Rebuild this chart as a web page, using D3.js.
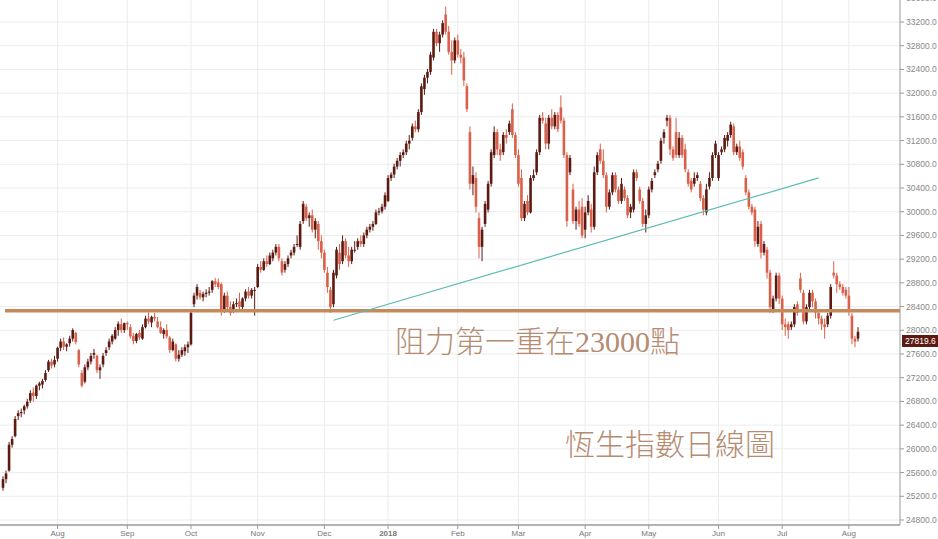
<!DOCTYPE html>
<html><head><meta charset="utf-8">
<script src="https://cdn.jsdelivr.net/npm/d3@7"></script>
<style>body{margin:0;background:#fff}svg{display:block}</style>
</head><body>
<svg id="c" width="938" height="539"></svg>
<script>
// Hang Seng Index daily readings [open, high, low, close], 2017-07-06 .. 2018-08-06 (weekdays)
// (readings were taken against a provisional axis; readCal maps them to index points)
const ohlc = [
[25100,25300,25050,25250],[25250,25400,25180,25350],[25400,25900,25380,25850],[25850,26000,25800,25950],[26000,26350,25980,26300],[26350,26450,26280,26400],[26400,26480,26330,26420],[26450,26550,26380,26520],[26520,26650,26480,26600],[26620,26800,26580,26750],[26760,26850,26600,26700],[26700,26900,26650,26880],[26880,26950,26800,26920],[26900,27000,26830,26960],[26980,27150,26950,27100],[27150,27330,27120,27300],[27300,27350,27180,27230],[27250,27400,27200,27330],
[27350,27560,27300,27540],[27540,27700,27480,27650],[27650,27720,27500,27560],[27560,27620,27480,27600],[27620,27750,27560,27700],[27700,27880,27650,27850],[27800,27820,27600,27640],[27500,27520,27200,27250],[27100,27150,26850,26880],[26950,27250,26920,27200],[27200,27350,27150,27300],[27300,27450,27250,27400],[27420,27520,27350,27450],[27400,27420,27100,27150],[27150,27250,27000,27200],[27250,27450,27200,27400],[27450,27550,27400,27500],[27550,27700,27500,27650],[27650,27780,27600,27750],[27700,27900,27680,27850],[27850,28000,27750,27960],[27950,28050,27800,27850],[27850,27980,27800,27970],
[27970,28000,27850,27950],[27900,27950,27700,27740],[27750,27800,27600,27660],[27660,27800,27620,27780],[27800,27850,27680,27720],[27700,27950,27680,27900],[27900,28100,27880,28050],[28050,28160,27950,28000],[27980,28100,27900,28080],[28080,28150,28000,28050],[28000,28080,27880,27900],[27900,28000,27780,27800],[27780,27880,27700,27850],[27850,27950,27700,27740],[27720,27750,27450,27500],[27500,27700,27480,27650],[27600,27620,27300,27350],[27350,27500,27300,27420],[27420,27550,27380,27500],[27480,27600,27400,27550],[27550,27650,27450,27600],
[27600,28200,27580,28150],[28300,28500,28250,28450],[28450,28650,28380,28600],[28500,28550,28380,28420],[28420,28520,28350,28480],[28480,28560,28420,28500],[28500,28600,28450,28520],[28550,28720,28500,28700],[28700,28760,28600,28650],[28680,28750,28560,28600],[28650,28680,28100,28200],[28200,28500,28150,28450],[28450,28520,28200,28250],[28250,28350,28100,28150],[28200,28350,28150,28300],[28300,28400,28250,28320],[28350,28500,28200,28250],[28250,28420,28200,28400],[28400,28560,28350,28520],[28520,28600,28400,28450],[28450,28580,28400,28550],[28550,28600,28100,28550],
[28600,29000,28580,28950],[28950,29050,28850,28900],[28900,29100,28880,29050],[29050,29150,28950,29000],[29000,29200,28980,29150],[29100,29250,29050,29200],[29200,29350,29150,29300],[29300,29350,29050,29100],[29050,29100,28800,28850],[28900,29050,28850,29000],[29000,29150,28950,29100],[29150,29250,29100,29200],[29200,29350,29150,29300],[29350,29500,29300,29350],[29300,29750,29250,29700],[29750,30100,29700,30050],[30000,30050,29750,29800],[29800,29900,29650,29850],[29850,29950,29550,29600],[29600,29800,29450,29750],[29700,29750,29250,29400],[29400,29500,29100,29200],
[29200,29250,28850,28900],[28850,28950,28500,28600],[28550,28600,28150,28250],[28300,28900,28250,28850],[28800,29300,28750,29250],[29200,29350,28900,29000],[29050,29500,29000,29400],[29400,29450,29100,29150],[29150,29300,28950,29050],[29050,29300,29000,29250],[29250,29400,29200,29250],[29300,29450,29250,29400],[29400,29500,29300,29350],[29350,29550,29300,29500],[29500,29650,29450,29600],[29600,29700,29550,29650],[29650,29750,29580,29700],[29700,29950,29680,29900],[29900,29980,29850,29920],[29920,30050,29880,30000],[30000,30250,29950,30200],
[30100,30550,30080,30500],[30500,30600,30450,30560],[30560,30750,30500,30700],[30700,30850,30650,30800],[30800,30950,30700,30900],[30900,31000,30850,30950],[30950,31150,30900,31100],[31100,31250,31000,31150],[31200,31450,31150,31400],[31400,31500,31300,31350],[31350,31700,31300,31650],[31650,32150,31600,32100],[32050,32300,31950,32250],[32250,32400,32150,32350],[32350,32700,32300,32650],[32600,33100,32550,33050],[33050,33100,32800,32850],[32850,33050,32700,33000],[33000,33250,32950,33200],[33350,33490,33000,33050],[33050,33150,32650,32700],[32700,32900,32300,32550],[32550,32950,32500,32900],
[32900,33000,32600,32650],[32650,32750,32500,32600],[32600,32700,32100,32200],[32100,32150,31650,31700],[31300,31400,30300,30400],[30400,30700,30200,30550],[30500,30600,29900,30000],[29800,29900,29100,29300],[29300,29650,29050,29600],[29700,30100,29650,30050],[29950,30450,29900,30400],[30400,31000,30350,30950],[30900,31400,30850,31300],[31300,31350,30900,31000],[31000,31100,30800,30900],[30950,31300,30900,31250],[31250,31350,31100,31200],[31300,31500,31250,31450],[31700,31800,31200,31250],[31250,31300,30850,30900],
[30900,31000,30350,30400],[30500,30650,29750,29800],[29800,30100,29750,30050],[30100,30200,29850,29900],[29900,30550,29880,30500],[30500,30650,30450,30550],[30600,31000,30550,30950],[30950,31600,30900,31550],[31550,31650,31450,31500],[31450,31550,31000,31100],[31100,31600,31000,31550],[31550,31700,31350,31400],[31400,31650,31350,31600],[31600,31650,31300,31350],[31730,31940,31450,31500],[31500,31550,30850,30900],[30900,30950,29650,29750],[30600,30900,30550,30850],[30300,30400,29700,29750],[29750,30000,29600,29950],[29950,30100,29650,29700],[30000,30150,29450,29500],
[29600,30000,29450,29900],[29900,30200,29850,30100],[29950,30050,29550,29650],[29650,30700,29600,30600],[30600,30950,30550,30900],[31000,31100,30750,30800],[30800,31000,30500,30550],[30550,30600,29900,30000],[30000,30300,29950,30250],[30250,30600,30200,30550],[30550,30600,30250,30300],[30300,30350,30050,30100],[30100,30500,30050,30400],[30300,30350,30100,30150],[30150,30200,29800,29850],[29900,30050,29800,30000],[29950,30650,29900,30600],[30600,30650,30450,30500],[30300,30350,30050,30100],[30100,30150,29650,29700],[29700,29950,29550,29850],
[29850,30350,29800,30300],[30300,30500,30250,30450],[30550,30650,30500,30600],[30650,30800,30600,30750],[30800,31200,30750,31150],[31200,31350,31100,31300],[31500,31600,31400,31550],[31550,31600,30900,31000],[31000,31050,30800,30850],[31300,31550,30850,30900],[30900,31300,30850,31200],[31200,31250,30850,30900],[31000,31100,30600,30650],[30600,30650,30350,30400],[30450,30500,30250,30300],[30400,30600,30350,30500],[30500,30600,30450,30550],[30400,30450,30100,30150],[30150,30200,29850,29950],[29900,30400,29850,30300],[30350,30600,30300,30500],[30500,30950,30450,30900],[30900,31150,30850,31100],
[30500,30950,30450,30900],[30950,31050,30900,31000],[31000,31250,30950,31200],[31150,31300,31050,31250],[31250,31480,31200,31430],[31400,31450,30900,30950],[30950,31100,30900,31050],[31050,31150,30800,30850],[30950,31000,30650,30700],[30500,30550,30200,30250],[30250,30300,29950,30000],[30000,30050,29850,29900],[29950,30000,29300,29400],[29350,29750,29300,29650],[29700,29750,29100,29200],[29200,29400,29150,29350],[29250,29300,28750,28850],[28850,28900,28150,28250],[28200,28450,28150,28400],[28400,28850,28350,28800],[28800,28850,28300,28400],
[28400,28450,27850,27950],[27950,28050,27750,27900],[27950,28000,27700,27850],[27900,28000,27850,27950],[27950,28300,27900,28250],[28300,28350,28100,28150],[28750,28850,28500,28550],[28500,28550,27950,28000],[28000,28300,27950,28250],[28250,28550,28200,28500],[28500,28550,28250,28350],[28350,28400,28050,28150],[28150,28200,27950,28050],[28050,28100,27850,27950],[27950,28050,27700,27900],[27950,28150,27900,28100],[28100,28650,28050,28600],[28850,29050,28750,28800],[28800,28850,28500,28650],[28650,28700,28550,28600],[28600,28650,28450,28500],[28550,28600,28400,28450],
[28450,28600,28100,28200],[28100,28150,27600,27700],[27700,27750,27550,27650],[27700,27900,27650,27820]
];
const startDate = "2017-07-06";
const monthLabels = ["Aug","Sep","Oct","Nov","Dec","2018","Feb","Mar","Apr","May","Jun","Jul","Aug"];
const yTicks = [24800,25200,25600,26000,26400,26800,27200,27600,28000,28400,28800,29200,29600,30000,30400,30800,31200,31600,32000,32400,32800,33200,33600];
const resistance = 28330;
const trendFrom = [109, 28170];
const trendTo = [269, 30570];
const lastPrice = "27819.6";
const note1 = "阻力第一重在23000點";
const note2 = "恆生指數日線圖";

// calibration of the readings onto index points
const readCal = v => 25053 + 0.9676 * (v - 24800);

const dates = [];
let d = new Date(startDate + "T00:00:00");
while (dates.length < ohlc.length) {
  const wd = d.getDay();
  if (wd !== 0 && wd !== 6) dates.push(new Date(d));
  d.setDate(d.getDate() + 1);
}
const svg = d3.select("#c");
const x = d3.scaleLinear().domain([0, ohlc.length - 1]).range([3, 858]);
const y = d3.scaleLinear().domain([24800, 33200]).range([520, 22]);
const plotR = 900, plotB = 525;

svg.append("g").selectAll("line").data(yTicks).join("line")
  .attr("x1", 0).attr("x2", plotR).attr("y1", v => y(v)).attr("y2", v => y(v))
  .attr("stroke", "#ececec").attr("stroke-width", 1);
const monthIdx = [];
dates.forEach((dt, i) => { if (i > 0 && dt.getMonth() !== dates[i-1].getMonth()) monthIdx.push(i); });
svg.append("g").selectAll("line").data(monthIdx).join("line")
  .attr("x1", i => x(i)).attr("x2", i => x(i)).attr("y1", 0).attr("y2", plotB)
  .attr("stroke", "#ececec");

svg.append("line").attr("x1", plotR).attr("x2", plotR).attr("y1", 0).attr("y2", plotB).attr("stroke", "#9a9a9a");
svg.append("line").attr("x1", 0).attr("x2", plotR).attr("y1", plotB).attr("y2", plotB).attr("stroke", "#9a9a9a").attr("stroke-width", 1.5);
const ya = svg.append("g");
ya.selectAll("line").data(yTicks).join("line").attr("x1", plotR).attr("x2", plotR+4).attr("y1", v=>y(v)).attr("y2", v=>y(v)).attr("stroke","#9a9a9a");
ya.selectAll("text").data(yTicks).join("text").attr("x", plotR+6).attr("y", v=>y(v)+3)
  .attr("font-family","Liberation Sans, Arial").attr("font-size",8.5).attr("fill","#888").text(v=>d3.format(".1f")(v));
const xa = svg.append("g");
xa.selectAll("line").data(monthIdx).join("line").attr("x1",i=>x(i)).attr("x2",i=>x(i)).attr("y1",plotB).attr("y2",plotB+4).attr("stroke","#9a9a9a");
xa.selectAll("text").data(monthIdx).join("text").attr("x",i=>x(i)).attr("y",plotB+11).attr("text-anchor","middle")
  .attr("font-family","Liberation Sans, Arial").attr("font-size",8).attr("fill","#777")
  .attr("font-weight",(i,k)=>monthLabels[k]==="2018"?"bold":"normal").text((i,k)=>monthLabels[k]);

const up = "#5c1a12", dn = "#d9604a";
const cand = ohlc.map(c => c.map(readCal));
const g = svg.append("g");
g.selectAll("line").data(cand).join("line")
  .attr("x1",(c,i)=>x(i)).attr("x2",(c,i)=>x(i)).attr("y1",c=>y(c[1])).attr("y2",c=>y(c[2]))
  .attr("stroke",c=>c[3]>=c[0]?up:dn).attr("stroke-width",1);
g.selectAll("rect").data(cand).join("rect")
  .attr("x",(c,i)=>x(i)-1.3).attr("width",2.6)
  .attr("y",c=>y(Math.max(c[0],c[3])))
  .attr("height",c=>Math.max(1,Math.abs(y(c[0])-y(c[3]))))
  .attr("fill",c=>c[3]>=c[0]?up:dn);

svg.append("line").attr("x1",5).attr("x2",plotR).attr("y1",y(resistance)).attr("y2",y(resistance))
  .attr("stroke","#c58a5c").attr("stroke-width",3.5);
svg.append("line").attr("x1",x(trendFrom[0])).attr("y1",y(trendFrom[1])).attr("x2",x(trendTo[0])).attr("y2",y(trendTo[1]))
  .attr("stroke","#5cbcb4").attr("stroke-width",1.2);

const lp = +lastPrice;
svg.append("rect").attr("x",plotR+2).attr("y",y(lp)-6).attr("width",36).attr("height",12).attr("fill","#5c1a12");
svg.append("text").attr("x",plotR+5).attr("y",y(lp)+3.5).attr("font-family","Liberation Sans, Arial").attr("font-size",8.5).attr("fill","#fff").text(lastPrice);

svg.append("text").attr("x",395).attr("y",352).attr("font-family","Liberation Serif, Noto Sans CJK TC").attr("font-size",30).attr("font-weight",300).attr("fill","#b58c72").text(note1);
svg.append("text").attr("x",565).attr("y",455).attr("font-family","Liberation Serif, Noto Sans CJK TC").attr("font-size",30).attr("font-weight",300).attr("fill","#b58c72").text(note2);
</script>
</body></html>
